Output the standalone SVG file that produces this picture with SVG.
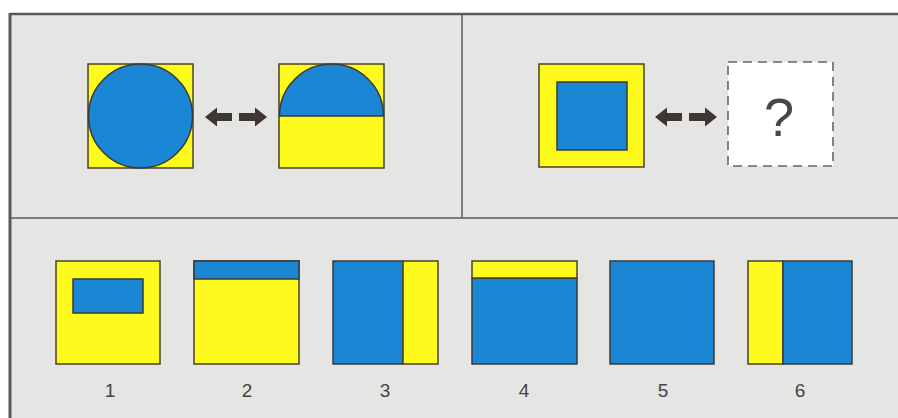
<svg xmlns="http://www.w3.org/2000/svg" width="898" height="418" viewBox="0 0 898 418">
<defs>
<style>
.y{fill:#fffa1e;stroke:#4a4028;stroke-width:1.5}
.b{fill:#1a86d4;stroke:#3a3a3a;stroke-width:1.5}
.frame{stroke:#5a5a5a;fill:none}
.num{font-family:"Liberation Sans",Arial,sans-serif;font-size:19px;fill:#444;text-anchor:middle}
.arr{fill:#3e3630}
</style>
<g id="arrowpair">
<polygon class="arr" points="0,0 12,-9.5 12,-4 27,-4 27,4 12,4 12,9.5"/>
<polygon class="arr" points="62,0 50,-9.5 50,-4 34,-4 34,4 50,4 50,9.5"/>
</g>
</defs>
<rect x="0" y="0" width="898" height="418" fill="#ffffff"/>
<rect x="10" y="14" width="888" height="404" fill="#e5e5e3"/>
<g id="frame">
<line class="frame" x1="10" y1="14" x2="898" y2="14" stroke-width="2.5"/>
<line class="frame" x1="10" y1="13" x2="10" y2="418" stroke-width="3"/>
<line class="frame" x1="10" y1="218" x2="898" y2="218" stroke-width="1.5"/>
<line class="frame" x1="462" y1="14" x2="462" y2="218" stroke-width="1.5"/>
</g>
<g id="q-circle">
<rect class="y" x="88" y="64" width="105" height="104"/>
<circle class="b" cx="140.5" cy="116" r="52"/>
</g>
<g id="q-semicircle">
<rect class="y" x="279" y="64" width="105" height="104"/>
<path class="b" d="M279.5,116 A52,52 0 0 1 383.5,116 Z"/>
</g>
<g id="q-square">
<rect class="y" x="539" y="64" width="105" height="103"/>
<rect class="b" x="557" y="82" width="70" height="68"/>
</g>
<g id="q-unknown">
<rect x="728" y="62" width="105" height="104" fill="#ffffff" stroke="#666" stroke-width="1.6" stroke-dasharray="9,6"/>
<text x="779" y="136" font-family="Liberation Sans,Arial,sans-serif" font-size="54" fill="#4a454a" text-anchor="middle">?</text>
</g>
<g id="connectors">
<use href="#arrowpair" x="205" y="117"/>
<use href="#arrowpair" x="655" y="117"/>
</g>
<g id="opt1">
<rect class="y" x="56" y="261" width="104" height="103"/>
<rect class="b" x="73" y="279" width="70" height="34"/>
<text class="num" x="110" y="397">1</text>
</g>
<g id="opt2">
<rect class="y" x="194" y="261" width="105" height="103"/>
<rect class="b" x="194" y="261" width="105" height="18"/>
<text class="num" x="247" y="397">2</text>
</g>
<g id="opt3">
<rect class="b" x="333" y="261" width="70" height="103"/>
<rect class="y" x="403" y="261" width="35" height="103"/>
<text class="num" x="385" y="397">3</text>
</g>
<g id="opt4">
<rect class="b" x="472" y="278" width="105" height="86"/>
<rect class="y" x="472" y="261" width="105" height="17"/>
<text class="num" x="524" y="397">4</text>
</g>
<g id="opt5">
<rect class="b" x="610" y="261" width="104" height="103"/>
<text class="num" x="663" y="397">5</text>
</g>
<g id="opt6">
<rect class="y" x="748" y="261" width="35" height="103"/>
<rect class="b" x="783" y="261" width="69" height="103"/>
<text class="num" x="800" y="397">6</text>
</g>
</svg>
